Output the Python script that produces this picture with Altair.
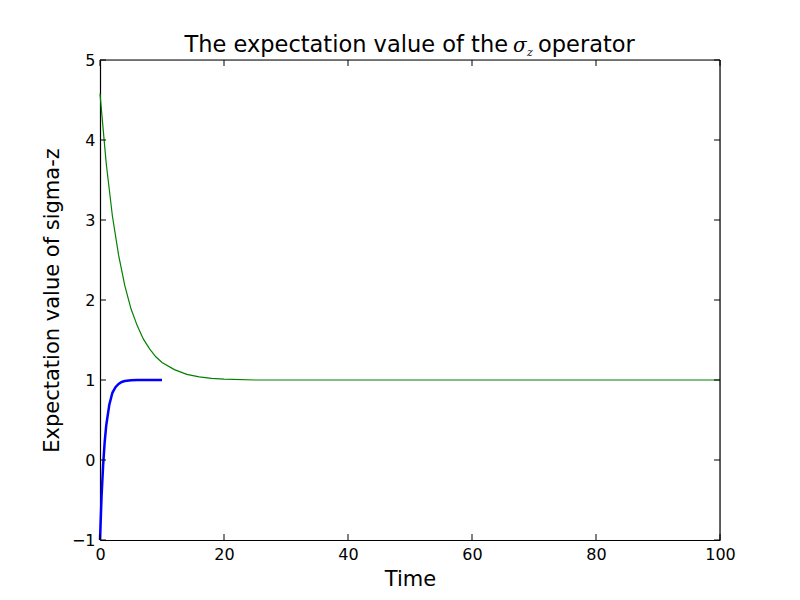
import altair as alt
import pandas as pd

# Data
green_t = [0, 1, 2, 3, 4, 5, 6, 7, 8, 9, 10, 12, 14, 16, 18, 20, 25, 30, 40, 50, 60, 70, 80, 90, 100]
green_v = [4.58, 3.71, 3.05, 2.56, 2.18, 1.89, 1.68, 1.51, 1.39, 1.29, 1.22, 1.13, 1.07, 1.04, 1.02, 1.01,
           1.0, 1.0, 1.0, 1.0, 1.0, 1.0, 1.0, 1.0, 1.0]
blue_t = [0, 0.25, 0.5, 0.75, 1, 1.5, 2, 2.5, 3, 3.5, 4, 5, 6, 7, 8, 9, 10]
blue_v = [-1.0, -0.46, -0.07, 0.22, 0.43, 0.69, 0.84, 0.91, 0.95, 0.975, 0.987, 0.996, 1.0, 1.0, 1.0, 1.0, 1.0]
x_ticks = [0, 20, 40, 60, 80, 100]
y_ticks = [-1, 0, 1, 2, 3, 4, 5]

W, H = 620, 480
FONT = "DejaVu Sans"

green = pd.DataFrame({"t": green_t, "v": green_v})
blue = pd.DataFrame({"t": blue_t, "v": blue_v})
xt = pd.DataFrame({"x": x_ticks})
yt = pd.DataFrame({"y": y_ticks})

xs = alt.Scale(domain=[0, 100], nice=False, zero=False)
ys = alt.Scale(domain=[-1, 5], nice=False, zero=False)

common = dict(ticks=False, domain=True, domainColor="black", domainWidth=1.2, grid=False,
              labelFontSize=16, labelFont=FONT, labelColor="black", format="d",
              titleFont=FONT, titleFontSize=21, titleFontWeight="normal", titleColor="black",
              labelFlush=False)
xaxis = alt.Axis(values=x_ticks, labelPadding=6, title="Time", titlePadding=6, **common)
yaxis = alt.Axis(values=y_ticks, labelPadding=5, title="Expectation value of sigma-z",
                 titlePadding=9, **common)

g = alt.Chart(green).mark_line(color="#008000", strokeWidth=1.2).encode(
    x=alt.X("t:Q", scale=xs, axis=xaxis), y=alt.Y("v:Q", scale=ys, axis=yaxis))
b = alt.Chart(blue).mark_line(color="#0000ff", strokeWidth=2.5).encode(
    x=alt.X("t:Q", scale=xs), y=alt.Y("v:Q", scale=ys))

tick_len = 6
xb = alt.Chart(xt).mark_rule(color="black", strokeWidth=1).encode(
    x=alt.X("x:Q", scale=xs), y=alt.value(H), y2=alt.value(H - tick_len))
xtp = alt.Chart(xt).mark_rule(color="black", strokeWidth=1).encode(
    x=alt.X("x:Q", scale=xs), y=alt.value(0), y2=alt.value(tick_len))
yl = alt.Chart(yt).mark_rule(color="black", strokeWidth=1).encode(
    y=alt.Y("y:Q", scale=ys), x=alt.value(0), x2=alt.value(tick_len))
yr = alt.Chart(yt).mark_rule(color="black", strokeWidth=1).encode(
    y=alt.Y("y:Q", scale=ys), x=alt.value(W), x2=alt.value(W - tick_len))

one = pd.DataFrame({"a": [0]})
top_border = alt.Chart(one).mark_rule(color="black", strokeWidth=1.2).encode(
    x=alt.value(0), x2=alt.value(W), y=alt.value(0))
right_border = alt.Chart(one).mark_rule(color="black", strokeWidth=1.2).encode(
    x=alt.value(W), y=alt.value(0), y2=alt.value(H))

t1 = alt.Chart(one).mark_text(font=FONT, fontSize=22.5, align="right", baseline="alphabetic").encode(
    x=alt.value(408), y=alt.value(-8), text=alt.value("The expectation value of the"))
t2 = alt.Chart(one).mark_text(font="DejaVu Serif", fontStyle="italic", fontSize=20, align="left",
                              baseline="alphabetic").encode(
    x=alt.value(413), y=alt.value(-8), text=alt.value("σ"))
t3 = alt.Chart(one).mark_text(font="DejaVu Serif", fontStyle="italic", fontSize=11, align="left",
                              baseline="alphabetic").encode(
    x=alt.value(427), y=alt.value(-4), text=alt.value("z"))
t4 = alt.Chart(one).mark_text(font=FONT, fontSize=22.5, align="left", baseline="alphabetic").encode(
    x=alt.value(438), y=alt.value(-8), text=alt.value("operator"))

chart = alt.layer(g, b, xb, xtp, yl, yr, top_border, right_border, t1, t2, t3, t4).properties(
    width=W, height=H,
    autosize=alt.AutoSizeParams(type="none"),
    padding={"left": 92, "top": 52, "right": 60, "bottom": 50},
).configure_view(strokeWidth=0).configure(background="white")

chart.save("out.html", embed_options={"renderer": "svg", "actions": False})
